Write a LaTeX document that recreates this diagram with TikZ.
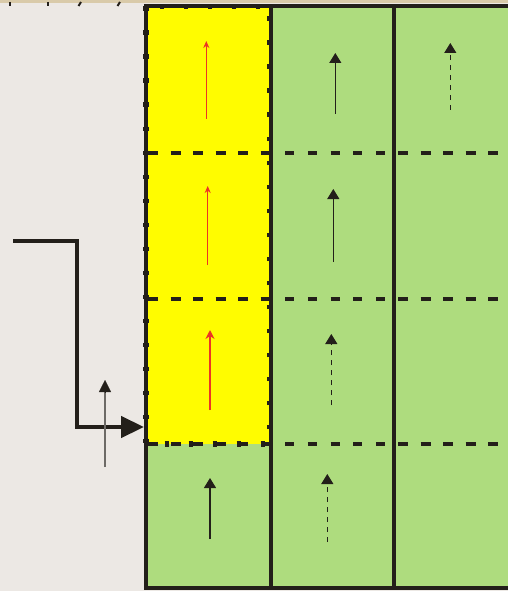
\documentclass[tikz,border=0pt]{standalone}
\usetikzlibrary{arrows.meta}
\definecolor{bgc}{HTML}{ECE8E4}
\definecolor{tanc}{HTML}{D9CAA9}
\definecolor{ink}{HTML}{231F1A}
\definecolor{cellgreen}{HTML}{AEDC7E}
\definecolor{cellyellow}{HTML}{FFFC00}
\definecolor{redarrow}{HTML}{EC3424}
\definecolor{greyline}{HTML}{6D6A66}
\tikzset{
  gridline/.style={ink, line width=4pt},
  rowdashA/.style={ink, line width=4pt, dash pattern=on 9pt off 13.75pt},
  rowdashB/.style={ink, line width=4pt, dash pattern=on 10pt off 12.5pt},
  ydash/.style={ink, line width=4pt, dash pattern=on 10pt off 12.5pt},
  yborder/.style={ink, line width=5.5pt, dash pattern=on 4.5pt off 19.5pt},
  redarr/.style={redarrow, line width=1.3pt, -{Stealth[length=7pt,width=6pt]}},
  redarrbig/.style={redarrow, line width=1.5pt, -{Stealth[length=9pt,width=9pt]}},
  blackarr/.style={ink, line width=1.2pt, -{Triangle[length=10pt,width=12pt]}},
  dasharr/.style={ink, line width=1.2pt, dash pattern=on 5pt off 5pt, -{Triangle[length=10pt,width=12pt]}},
  flowarr/.style={ink, line width=4.5pt, -{Triangle[length=23pt,width=21pt]}},
  tick/.style={ink, line width=2pt}
}
\begin{document}
\begin{tikzpicture}[x=1pt,y=-1pt]
\useasboundingbox (0,0) rectangle (508,591);
\fill[bgc] (0,0) rectangle (508,591);
\fill[tanc] (0,0) rectangle (508,3);
% small ticks at the top
\draw[tick] (10,2) -- (10,6);
\draw[tick] (48,2) -- (48,6);
\draw[tick] (81,2) -- (78.5,6);
\draw[tick] (120,2) -- (117.5,6);
% cells
\fill[cellgreen] (146,6) rectangle (508,588);
\fill[cellyellow] (146,6) rectangle (271,444);
% yellow column dashed border
\draw[yborder] (146,6.5) rectangle (269.5,444);
% row boundaries
\draw[ydash] (148,153) -- (270,153);
\draw[ydash] (148,298.5) -- (270,298.5);
\draw[ydash] (148,444) -- (270,444);
\foreach \yy in {153,298.5,444}{
  \draw[rowdashA] (285,\yy) -- (386,\yy);
  \draw[rowdashB] (398,\yy) -- (500,\yy);
}
% solid grid lines
\draw[gridline] (508,6) -- (146,6) -- (146,588) -- (508,588);
\draw[gridline] (271,6) -- (271,588);
\draw[gridline] (394,6) -- (394,588);
% arrows in the cells
\coordinate (r1s) at (206.3,119); \coordinate (r1e) at (206.3,41);
\coordinate (r2s) at (207.7,265); \coordinate (r2e) at (207.7,186);
\coordinate (r3s) at (210,410); \coordinate (r3e) at (210,330);
\coordinate (g1s) at (210,539); \coordinate (g1e) at (210,478);
\draw[redarr] (r1s) -- (r1e);
\draw[redarr] (r2s) -- (r2e);
\draw[redarrbig] (r3s) -- (r3e);
\draw[blackarr] (g1s) -- (g1e);
\coordinate (b1s) at (335.3,114); \coordinate (b1e) at (335.3,53);
\coordinate (b2s) at (333.3,262); \coordinate (b2e) at (333.3,189);
\coordinate (b3s) at (331.3,405); \coordinate (b3e) at (331.3,334);
\coordinate (b4s) at (327.3,542); \coordinate (b4e) at (327.3,474);
\draw[blackarr] (b1s) -- (b1e);
\draw[blackarr] (b2s) -- (b2e);
\draw[dasharr] (b3s) -- (b3e);
\draw[dasharr] (b4s) -- (b4e);
\coordinate (c1s) at (450.3,110); \coordinate (c1e) at (450.3,43);
\draw[dasharr] (c1s) -- (c1e);
% flow arrow on the left
\coordinate (fstart) at (13,241);
\coordinate (fbend1) at (77,241);
\coordinate (fbend2) at (77,427);
\coordinate (ftip) at (144,427);
\draw[flowarr] (fstart) -- (fbend1) -- (fbend2) -- (ftip);
% grey arrow
\coordinate (gs) at (105,467);
\coordinate (gm) at (105,392);
\coordinate (ge) at (105,380);
\draw[greyline, line width=2pt] (gs) -- (gm);
\draw[ink, line width=0.1pt, -{Triangle[length=12pt,width=12pt]}] (gm) -- (ge);
\end{tikzpicture}
\end{document}
